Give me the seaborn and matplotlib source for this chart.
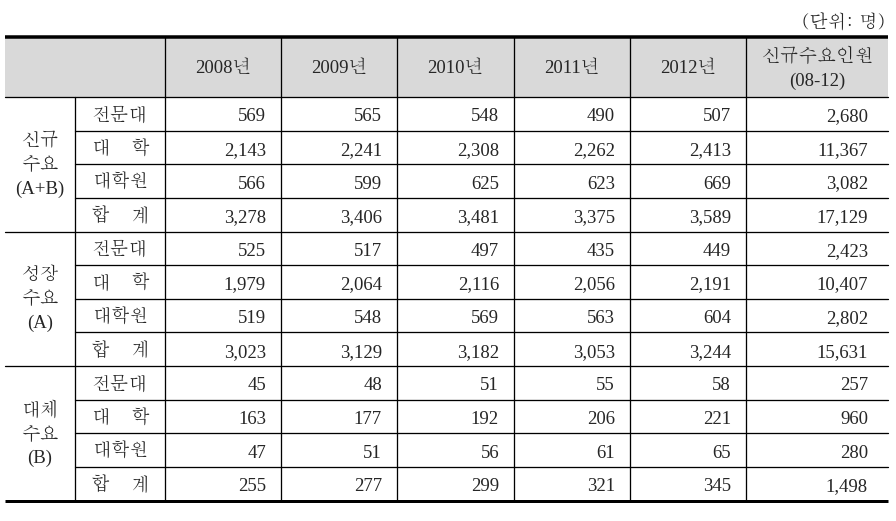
import matplotlib
matplotlib.use("Agg")
import matplotlib.pyplot as plt
import seaborn as sns
import pandas as pd

# ---------------- data ----------------
unit_label = "(단위: 명)"
year_labels = ["2008년", "2009년", "2010년", "2011년", "2012년"]
total_label = "신규수요인원\n(08-12)"
section_labels = ["신규\n수요\n(A+B)", "성장\n수요\n(A)", "대체\n수요\n(B)"]
sub_labels = ["전문대", "대 학", "대학원", "합 계"]

new_demand = [
    [569, 565, 548, 490, 507, 2680],
    [2143, 2241, 2308, 2262, 2413, 11367],
    [566, 599, 625, 623, 669, 3082],
    [3278, 3406, 3481, 3375, 3589, 17129],
]
growth_demand = [
    [525, 517, 497, 435, 449, 2423],
    [1979, 2064, 2116, 2056, 2191, 10407],
    [519, 548, 569, 563, 604, 2802],
    [3023, 3129, 3182, 3053, 3244, 15631],
]
replace_demand = [
    [45, 48, 51, 55, 58, 257],
    [163, 177, 192, 206, 221, 960],
    [47, 51, 56, 61, 65, 280],
    [255, 277, 299, 321, 345, 1498],
]

columns = year_labels + [total_label]
frames = []
for sec, block in zip(section_labels, [new_demand, growth_demand, replace_demand]):
    df = pd.DataFrame(block, columns=columns)
    df.insert(0, "sub", sub_labels)
    df.insert(0, "section", sec)
    frames.append(df)
table = pd.concat(frames, ignore_index=True)

# ---------------- style ----------------
sns.set_theme(style="white")
plt.rcParams["font.family"] = ["Batang", "Noto Sans CJK KR", "DejaVu Sans"]
SERIF_MIX = ["Liberation Serif", "Batang", "Noto Sans CJK KR"]
FS = 13.5

W, H = 896, 521
fig = plt.figure(figsize=(W / 100, H / 100), dpi=100)
ax = fig.add_axes([0, 0, 1, 1])
ax.set_xlim(0, W)
ax.set_ylim(H, 0)
ax.axis("off")

col_edges = [5, 75, 165, 281, 397, 514, 630, 746, 888]
top_y, head_bot, bot_y = 37, 97, 500.5
n_rows = len(table)
row_h = (bot_y - head_bot) / n_rows
px = 0.72  # points per pixel

# header background
ax.add_patch(plt.Rectangle((col_edges[0], top_y), col_edges[-1] - col_edges[0],
                           head_bot - top_y, facecolor="#d9d9d9", edgecolor="none", zorder=0))

# thick top/bottom rules
ax.plot([col_edges[0], col_edges[-1]], [top_y, top_y], color="black", lw=3.5 * px, solid_capstyle="butt")
ax.plot([col_edges[0], col_edges[-1]], [bot_y, bot_y], color="black", lw=3 * px, solid_capstyle="butt")
# header bottom
ax.plot([col_edges[0], col_edges[-1]], [head_bot, head_bot], color="black", lw=1.3 * px)

# vertical lines
for x in col_edges[2:-1]:
    ax.plot([x, x], [top_y, bot_y], color="black", lw=1.3 * px)
ax.plot([col_edges[1]] * 2, [head_bot, bot_y], color="black", lw=1.3 * px)

# horizontal row lines
for i in range(1, n_rows):
    y = head_bot + i * row_h
    if i % len(sub_labels) == 0:
        ax.plot([col_edges[0], col_edges[-1]], [y, y], color="black", lw=1.3 * px)
    else:
        ax.plot([col_edges[1], col_edges[-1]], [y, y], color="black", lw=1.3 * px)

# unit label
ax.text(col_edges[-1] - 3, 22, unit_label, ha="right", va="center", fontsize=FS)

# header texts
for j, lab in enumerate(columns):
    xc = (col_edges[2 + j] + col_edges[3 + j]) / 2
    ax.text(xc, (top_y + head_bot) / 2 + 2, lab, ha="center", va="center",
            fontsize=FS, linespacing=1.55, family=SERIF_MIX)

# section labels
n_sub = len(sub_labels)
for s, sec in enumerate(section_labels):
    yc = head_bot + (s * n_sub + n_sub / 2) * row_h
    ax.text((col_edges[0] + col_edges[1]) / 2, yc + 1, sec, ha="center", va="center",
            fontsize=FS, linespacing=1.5, family=SERIF_MIX)

# rows
for i, row in table.iterrows():
    yc = head_bot + (i + 0.5) * row_h
    sub = row["sub"]
    parts = sub.split(" ")
    if len(parts) == 2:
        ax.text(91, yc + 1, parts[0], ha="left", va="center", fontsize=FS)
        ax.text(149, yc + 1, parts[1], ha="right", va="center", fontsize=FS)
    else:
        ax.text((col_edges[1] + col_edges[2]) / 2, yc + 1, sub, ha="center", va="center", fontsize=FS)
    for j, c in enumerate(columns):
        pad = 20 if j == len(columns) - 1 else 15
        ax.text(col_edges[3 + j] - pad, yc + 3, f"{row[c]:,}", ha="right", va="center",
                fontsize=FS, family=SERIF_MIX)

fig.savefig("out.png", dpi=100)
